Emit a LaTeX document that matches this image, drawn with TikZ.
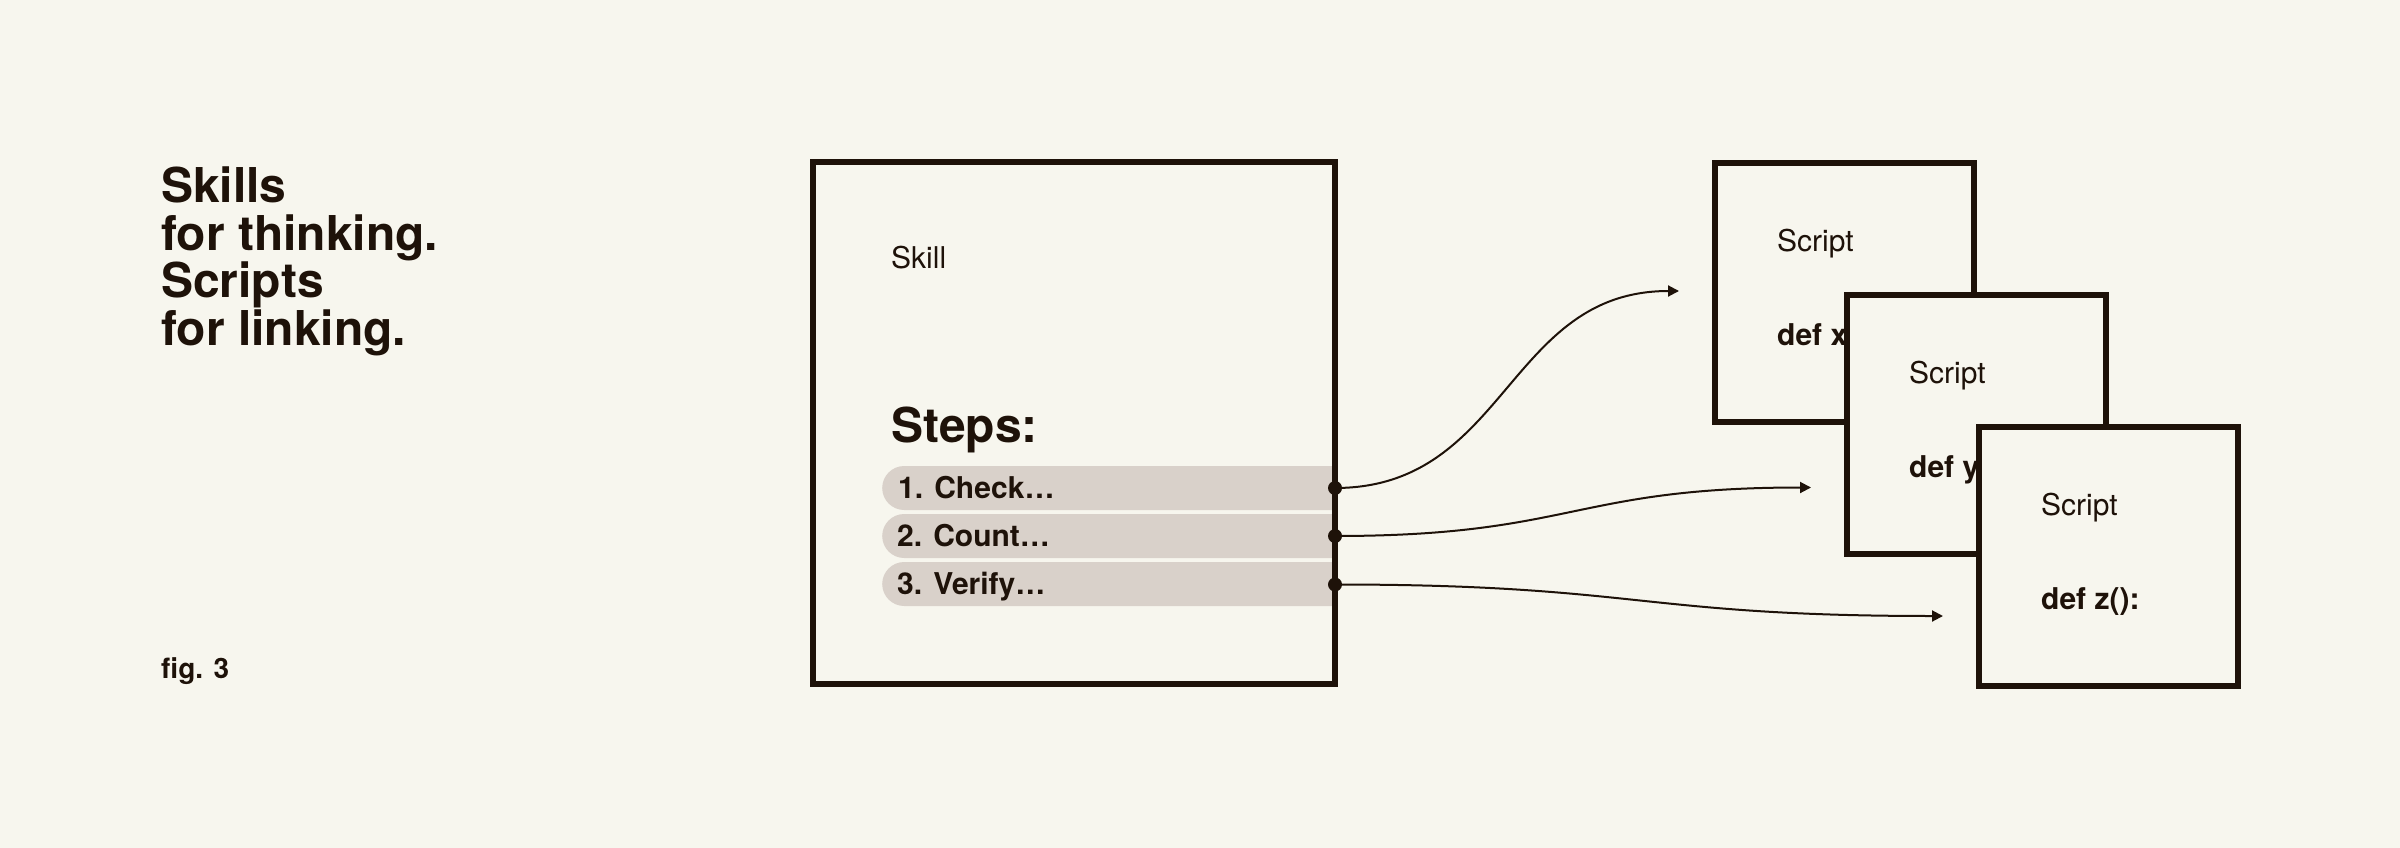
\documentclass[tikz,border=0pt]{standalone}
\usepackage{fontspec}
\setmainfont{TeX Gyre Heros}
\usetikzlibrary{arrows.meta,shapes.misc}
\definecolor{bgc}{HTML}{F7F6EE}
\definecolor{ink}{HTML}{1E1209}
\definecolor{pillc}{HTML}{D9D1CA}
\begin{document}
\begin{tikzpicture}[x=1pt,y=-1pt,
  frame/.style={draw=ink,line width=6pt,inner sep=0pt,minimum size=#1},
  titletext/.style={font=\fontsize{48}{56}\selectfont\bfseries,text=ink,anchor=base west,inner sep=0pt},
  lab/.style={font=\fontsize{30}{36}\selectfont,text=ink,anchor=base west,inner sep=0pt},
  codetext/.style={font=\fontsize{30}{36}\selectfont\bfseries,text=ink,anchor=base west,inner sep=0pt},
  pillbar/.style={rounded rectangle,rounded rectangle right arc=none,fill=pillc,draw=none,
    minimum width=453pt,minimum height=44pt,inner sep=0pt,anchor=west},
  dotnode/.style={circle,fill=ink,draw=none,minimum size=14pt,inner sep=0pt},
  conn/.style={draw=ink,line width=2pt,-{Triangle[length=11pt,width=11pt]}}
]
\useasboundingbox (0,0) rectangle (2400,848);
\fill[bgc] (0,0) rectangle (2400,848);

% title
\node[titletext] (h1) at (161,202) {Skills};
\node[titletext] (h2) at (161,250) {for thinking.};
\node[titletext] (h3) at (161,297) {Scripts};
\node[titletext] (h4) at (161,345) {for linking.};
\node[font=\fontsize{28}{32}\selectfont\bfseries,text=ink,anchor=base west,inner sep=0pt] (fig) at (161,678) {fig. 3};

% step bars
\node[pillbar] (p1) at (882,488) {};
\node[pillbar] (p2) at (882,536) {};
\node[pillbar] (p3) at (882,584) {};
\node[codetext] (l1) at (898,498) {1. Check…};
\node[codetext] (l2) at (897,546) {2. Count…};
\node[codetext] (l3) at (897,594) {3. Verify…};

% skill box
\node[frame=522pt] (skill) at (1074,423) {};
\node[lab] (skilllab) at (891,268) {Skill};
\node[font=\fontsize{48}{56}\selectfont\bfseries,text=ink,anchor=base west,inner sep=0pt] (steps) at (891,442) {Steps:};

% dots
\node[dotnode] (d1) at (1335,488) {};
\node[dotnode] (d2) at (1335,536) {};
\node[dotnode] (d3) at (1335,584.5) {};

% arrow ends
\coordinate (t1) at (1679,291);
\coordinate (t2) at (1811,487.5);
\coordinate (t3) at (1943,616);

\draw[conn] (d1.center) .. controls +(172,0) and +(-172,0) .. (t1);
\draw[conn] (d2.center) .. controls +(238,0) and +(-238,0) .. (t2);
\draw[conn] (d3.center) .. controls +(304,0) and +(-304,0) .. (t3);

% script boxes
\node[frame=259pt,fill=bgc] (s1) at (1844,292) {};
\node[lab] (s1a) at (1777,251.5) {Script};
\node[codetext] (s1b) at (1777,345.5) {def x():};

\node[frame=259pt,fill=bgc] (s2) at (1976,424) {};
\node[lab] (s2a) at (1909,383.5) {Script};
\node[codetext] (s2b) at (1909,477.5) {def y():};

\node[frame=259pt,fill=bgc] (s3) at (2108,556) {};
\node[lab] (s3a) at (2041,515.5) {Script};
\node[codetext] (s3b) at (2041,609.5) {def z():};
\end{tikzpicture}
\end{document}
